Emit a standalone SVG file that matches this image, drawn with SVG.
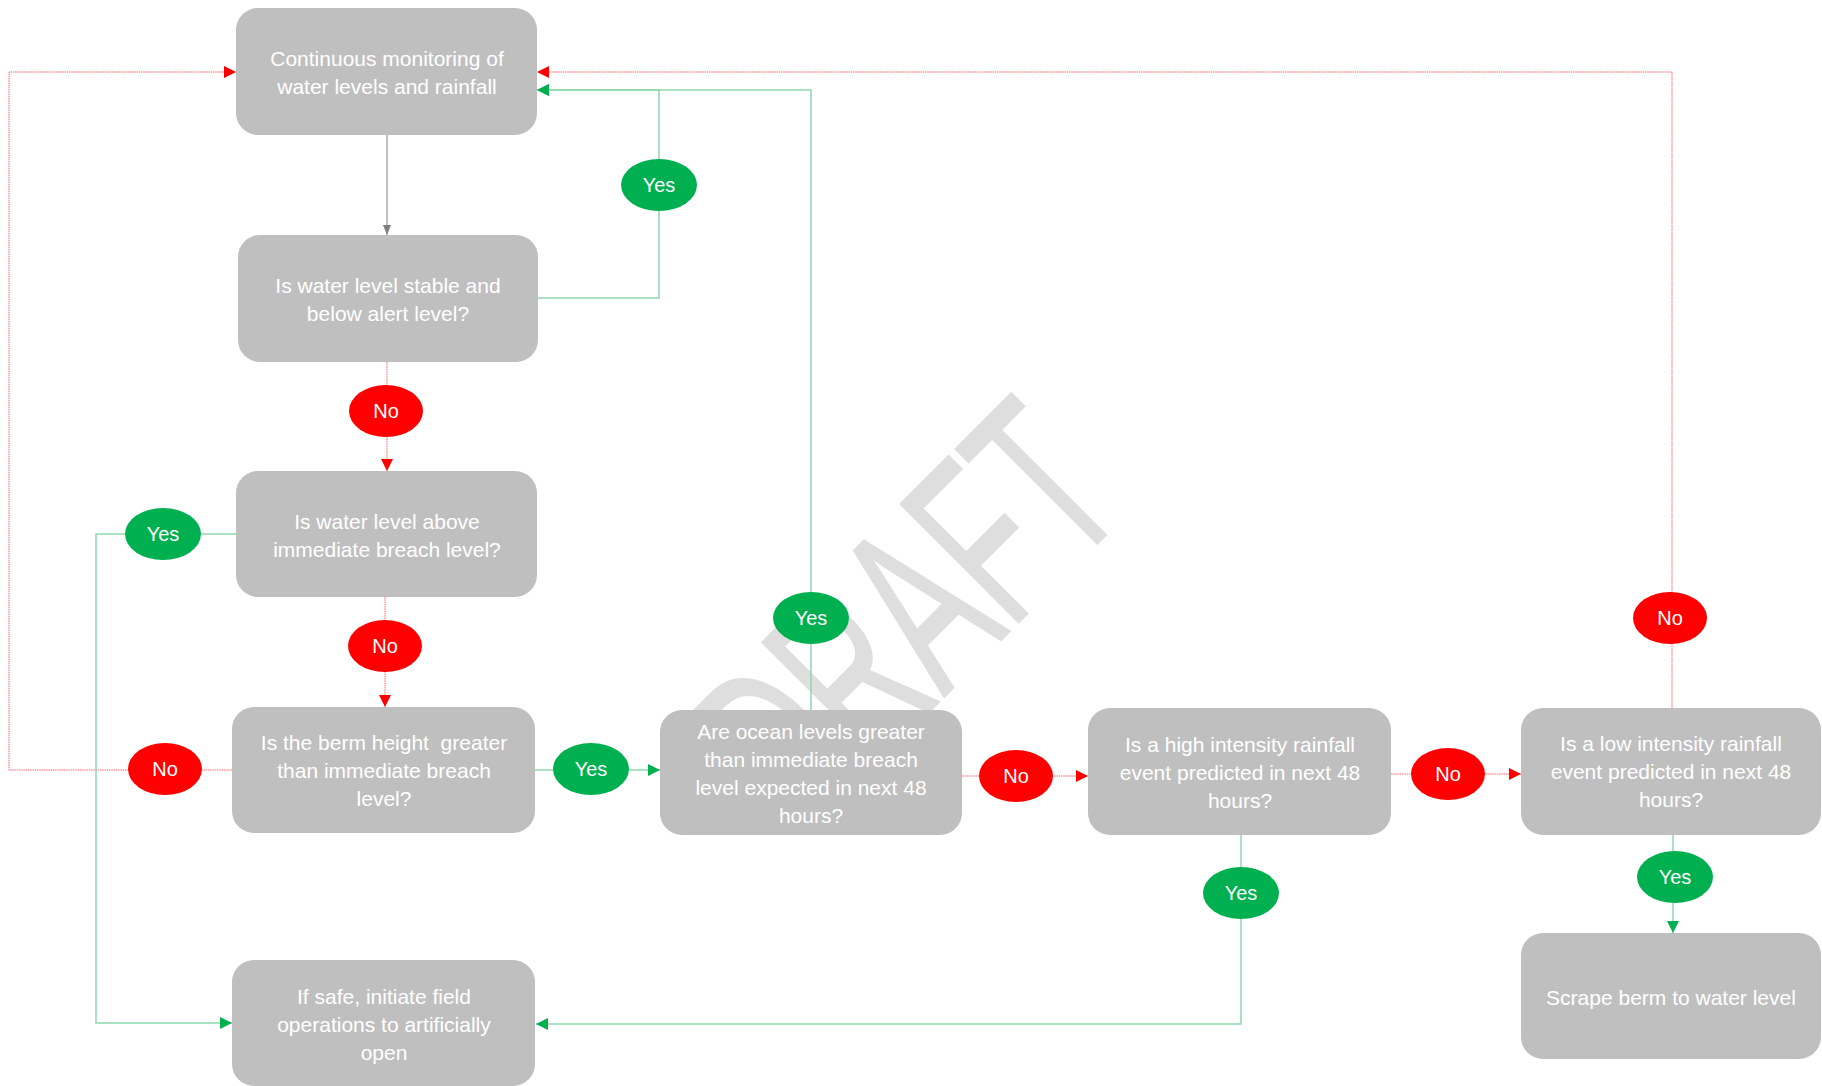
<svg xmlns="http://www.w3.org/2000/svg" width="1822" height="1086" viewBox="0 0 1822 1086">
<defs>
<style>
.node rect{fill:#bfbfbf;}
.node text{fill:#ffffff;font-family:"Liberation Sans",Arial,sans-serif;font-size:21px;text-anchor:middle;}
.yes ellipse{fill:#00b050;}
.no ellipse{fill:#ff0000;}
.yes text,.no text{fill:#ffffff;font-family:"Liberation Sans",Arial,sans-serif;font-size:20px;text-anchor:middle;}
.red{fill:none;stroke:#ff4040;stroke-opacity:0.8;stroke-width:1;stroke-dasharray:1.5 0.75;}
.green{fill:none;stroke:#8fd9ad;stroke-width:1.5;}
.gray{fill:none;stroke:#808080;stroke-width:1;}
.wm{fill:#dedede;stroke:#dedede;stroke-width:2;font-family:"Liberation Sans",Arial,sans-serif;font-size:243px;text-anchor:middle;}
</style>
<marker id="arR" markerUnits="userSpaceOnUse" markerWidth="12" markerHeight="12" refX="12" refY="6" orient="auto"><path d="M0,0 L12,6 L0,12 z" fill="#ff0000"/></marker>
<marker id="arG" markerUnits="userSpaceOnUse" markerWidth="12" markerHeight="12" refX="12" refY="6" orient="auto"><path d="M0,0 L12,6 L0,12 z" fill="#00b050"/></marker>
<marker id="arK" markerUnits="userSpaceOnUse" markerWidth="10" markerHeight="10" refX="10" refY="5" orient="auto"><path d="M0,1 L10,5 L0,9 z" fill="#7f7f7f"/></marker>
</defs>
<rect width="1822" height="1086" fill="#ffffff"/>
<text class="wm" transform="translate(966,675) rotate(-45) scale(0.58,1)">DRAFT</text>

<g id="connectors">
<path class="red" d="M232,770 H9 V72 H236" marker-end="url(#arR)"/>
<path class="red" d="M1672,708 V72 H537" marker-end="url(#arR)"/>
<path class="red" d="M387,362 V471" marker-end="url(#arR)"/>
<path class="red" d="M385,597 V707" marker-end="url(#arR)"/>
<path class="red" d="M962,776 H1088" marker-end="url(#arR)"/>
<path class="red" d="M1391,774 H1521" marker-end="url(#arR)"/>
<path class="green" d="M538,298 H659 V90 H537" marker-end="url(#arG)"/>
<path class="green" d="M811,710 V90 H537" marker-end="url(#arG)"/>
<path class="green" d="M236,534 H96 V1023 H232" marker-end="url(#arG)"/>
<path class="green" d="M535,770 H660" marker-end="url(#arG)"/>
<path class="green" d="M1241,835 V1024 H536" marker-end="url(#arG)"/>
<path class="green" d="M1673,835 V933" marker-end="url(#arG)"/>
<path class="gray" d="M387,135 V235" marker-end="url(#arK)"/>
</g>

<g id="n1" class="node"><rect x="236" y="8" width="301" height="127" rx="22"/><text x="387" y="66">Continuous monitoring of</text><text x="387" y="94">water levels and rainfall</text></g>
<g id="n2" class="node"><rect x="238" y="235" width="300" height="127" rx="22"/><text x="388" y="293">Is water level stable and</text><text x="388" y="321">below alert level?</text></g>
<g id="n3" class="node"><rect x="236" y="471" width="301" height="126" rx="22"/><text x="387" y="529">Is water level above</text><text x="387" y="557">immediate breach level?</text></g>
<g id="n4" class="node"><rect x="232" y="707" width="303" height="126" rx="22"/><text x="384" y="750" xml:space="preserve">Is the berm height  greater</text><text x="384" y="778">than immediate breach</text><text x="384" y="806">level?</text></g>
<g id="n5" class="node"><rect x="660" y="710" width="302" height="125" rx="22"/><text x="811" y="739">Are ocean levels greater</text><text x="811" y="767">than immediate breach</text><text x="811" y="795">level expected in next 48</text><text x="811" y="823">hours?</text></g>
<g id="n6" class="node"><rect x="1088" y="708" width="303" height="127" rx="22"/><text x="1240" y="752">Is a high intensity rainfall</text><text x="1240" y="780">event predicted in next 48</text><text x="1240" y="808">hours?</text></g>
<g id="n7" class="node"><rect x="1521" y="708" width="300" height="127" rx="22"/><text x="1671" y="751">Is a low intensity rainfall</text><text x="1671" y="779">event predicted in next 48</text><text x="1671" y="807">hours?</text></g>
<g id="n8" class="node"><rect x="1521" y="933" width="300" height="126" rx="22"/><text x="1671" y="1005">Scrape berm to water level</text></g>
<g id="n9" class="node"><rect x="232" y="960" width="303" height="126" rx="22"/><text x="384" y="1004">If safe, initiate field</text><text x="384" y="1032">operations to artificially</text><text x="384" y="1060">open</text></g>

<g id="y1" class="yes"><ellipse cx="659" cy="185" rx="38" ry="26"/><text x="659" y="192">Yes</text></g>
<g id="y2" class="yes"><ellipse cx="163" cy="534" rx="38" ry="26"/><text x="163" y="541">Yes</text></g>
<g id="y3" class="yes"><ellipse cx="591" cy="769" rx="38" ry="26"/><text x="591" y="776">Yes</text></g>
<g id="y4" class="yes"><ellipse cx="811" cy="618" rx="38" ry="26"/><text x="811" y="625">Yes</text></g>
<g id="y5" class="yes"><ellipse cx="1241" cy="893" rx="38" ry="26"/><text x="1241" y="900">Yes</text></g>
<g id="y6" class="yes"><ellipse cx="1675" cy="877" rx="38" ry="26"/><text x="1675" y="884">Yes</text></g>
<g id="no1" class="no"><ellipse cx="386" cy="411" rx="37" ry="26"/><text x="386" y="418">No</text></g>
<g id="no2" class="no"><ellipse cx="385" cy="646" rx="37" ry="26"/><text x="385" y="653">No</text></g>
<g id="no3" class="no"><ellipse cx="165" cy="769" rx="37" ry="26"/><text x="165" y="776">No</text></g>
<g id="no4" class="no"><ellipse cx="1016" cy="776" rx="37" ry="26"/><text x="1016" y="783">No</text></g>
<g id="no5" class="no"><ellipse cx="1448" cy="774" rx="37" ry="26"/><text x="1448" y="781">No</text></g>
<g id="no6" class="no"><ellipse cx="1670" cy="618" rx="37" ry="26"/><text x="1670" y="625">No</text></g>
</svg>
